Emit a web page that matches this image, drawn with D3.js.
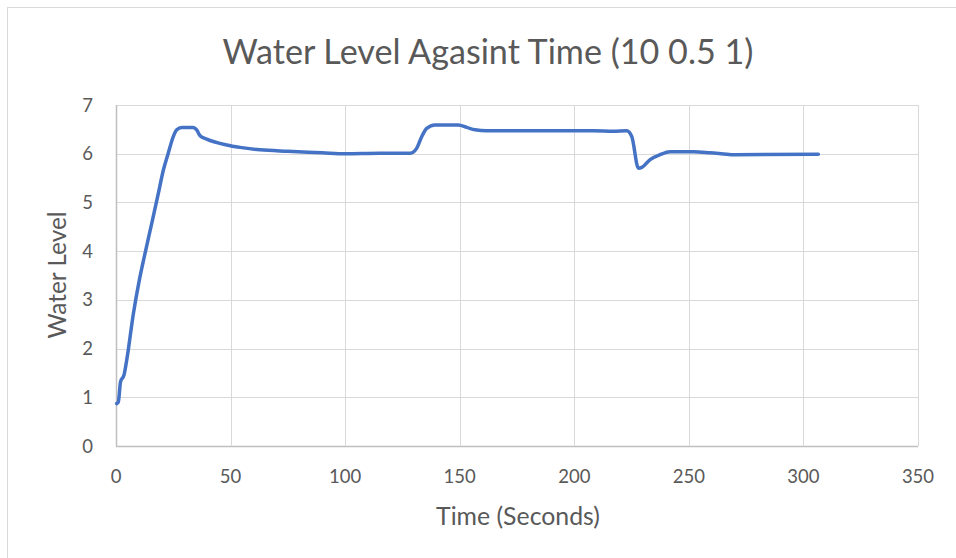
<!DOCTYPE html>
<html lang="en">
<head>
    <meta charset="UTF-8">
    <title>Water Level Agasint Time</title>
    <style>
        body { margin: 0; background: #fff; }
        text { font-family: Lato, "Open Sans", sans-serif; fill: #595959; }
    </style>
</head>
<body>
    <div id="chart"></div>
    <script src="https://d3js.org/d3.v7.min.js"></script>
    <script>

    // data
    const timeSec = [0.3, 1.0, 2.0, 3.5, 4.7, 7.6, 10.2, 12.7, 15.6, 18.5, 20.7, 22.8, 25.0, 26.5, 28.7,
        33.7, 35.2, 36.7, 39.6, 48.3, 54.1, 62.9, 75, 90, 100, 115, 128.4, 131.2, 133.4, 135.6,
        139.2, 149.4, 153.1, 156.7, 161.8, 208.3, 217.1, 222.9, 225.1, 228.0, 229.5, 233.1,
        237.4, 241.8, 252.0, 259.1, 266.6, 269.5, 306.5];
    const waterLevel = [0.87, 0.9, 1.32, 1.46, 1.77, 2.72, 3.41, 3.96, 4.57, 5.19, 5.67, 6.01, 6.35, 6.49, 6.54,
        6.54, 6.49, 6.37, 6.30, 6.18, 6.13, 6.08, 6.05, 6.02, 6.00, 6.01, 6.01, 6.11, 6.35, 6.52,
        6.59, 6.59, 6.54, 6.49, 6.47, 6.47, 6.46, 6.47, 6.35, 5.70, 5.72, 5.88,
        5.98, 6.04, 6.04, 6.02, 5.99, 5.98, 5.99];
    const xTicks = [0, 50, 100, 150, 200, 250, 300, 350];
    const yTicks = [0, 1, 2, 3, 4, 5, 6, 7];

    const W = 956, H = 558;
    const plot = {left: 116, right: 918, top: 105, bottom: 446};

    const svg = d3.select("#chart").append("svg")
        .attr("width", W).attr("height", H);

    // chart border
    svg.append("rect")
        .attr("x", 7.5).attr("y", 7.5)
        .attr("width", W).attr("height", H)
        .attr("fill", "none")
        .attr("stroke", "#d9d9d9");

    const x = d3.scaleLinear().domain([0, 350]).range([plot.left, plot.right]);
    const y = d3.scaleLinear().domain([0, 7]).range([plot.bottom, plot.top]);

    // gridlines
    svg.append("g")
        .selectAll("line.h")
        .data(yTicks)
        .join("line")
        .attr("x1", plot.left).attr("x2", plot.right)
        .attr("y1", d => Math.round(y(d)) + 0.5).attr("y2", d => Math.round(y(d)) + 0.5)
        .attr("stroke", d => d === 0 ? "#bfbfbf" : "#d9d9d9")
        .attr("stroke-width", d => d === 0 ? 1.5 : 1);

    svg.append("g")
        .selectAll("line.v")
        .data(xTicks)
        .join("line")
        .attr("x1", d => Math.round(x(d)) + 0.5).attr("x2", d => Math.round(x(d)) + 0.5)
        .attr("y1", plot.top).attr("y2", plot.bottom)
        .attr("stroke", d => d === 0 ? "#bfbfbf" : "#d9d9d9")
        .attr("stroke-width", d => d === 0 ? 1.5 : 1);

    // tick labels
    svg.append("g")
        .selectAll("text")
        .data(xTicks)
        .join("text")
        .attr("x", d => x(d))
        .attr("y", 483)
        .attr("text-anchor", "middle")
        .style("font-size", "18.5px")
        .text(d => d);

    svg.append("g")
        .selectAll("text")
        .data(yTicks)
        .join("text")
        .attr("x", 93)
        .attr("y", d => y(d) + 6.5)
        .attr("text-anchor", "end")
        .style("font-size", "18.5px")
        .text(d => d);

    // the series
    const pts = timeSec.map((t, i) => [t, waterLevel[i]]);
    svg.append("path")
        .datum(pts)
        .attr("fill", "none")
        .attr("stroke", "#4472c4")
        .attr("stroke-width", 3.5)
        .attr("stroke-linejoin", "round")
        .attr("stroke-linecap", "round")
        .attr("d", d3.line().x(d => x(d[0])).y(d => y(d[1])).curve(d3.curveMonotoneX));

    // titles, sized to the widths they take in the reference
    function fit(sel, target) {
        const w = sel.node().getComputedTextLength();
        const fs = parseFloat(sel.style("font-size"));
        sel.style("font-size", (fs * target / w) + "px");
    }

    const title = svg.append("text")
        .attr("x", 488).attr("y", 64)
        .attr("text-anchor", "middle")
        .style("font-size", "30px")
        .text("Water Level Agasint Time (10 0.5 1)");
    fit(title, 531);

    const xTitle = svg.append("text")
        .attr("x", 518).attr("y", 525)
        .attr("text-anchor", "middle")
        .style("font-size", "20px")
        .text("Time (Seconds)");
    fit(xTitle, 164);

    const yTitle = svg.append("text")
        .attr("transform", "translate(66, 275) rotate(-90)")
        .attr("text-anchor", "middle")
        .style("font-size", "20px")
        .text("Water Level");
    fit(yTitle, 127);

    </script>
</body>
</html>
